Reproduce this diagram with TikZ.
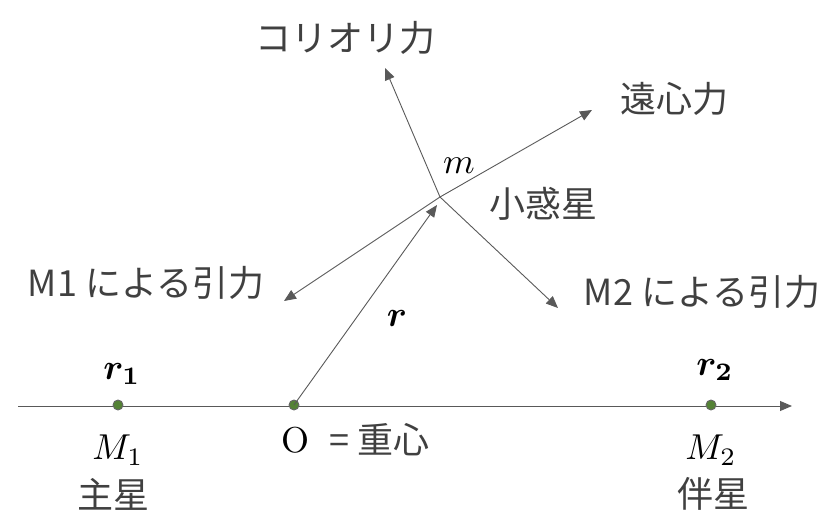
\documentclass[tikz,border=0pt]{standalone}
\usepackage{amsmath, amssymb, bm}
\usepackage{fontspec}
\newfontfamily\jpfont{Noto Sans CJK JP}
\definecolor{LineColor}{RGB}{89,89,89}
\definecolor{TextColor}{RGB}{64,64,64}
\definecolor{DotColor}{RGB}{84,130,53}
\usetikzlibrary{positioning, arrows.meta}
\tikzstyle{vec} = [LineColor, line width=0.9pt, -{Triangle[length=12pt,width=10pt]}]
\tikzstyle{jplabel} = [TextColor, font=\jpfont\fontsize{36}{42}\selectfont, inner sep=0pt]
\tikzstyle{mathlabel} = [black, scale=3.6, inner sep=0pt]
\tikzstyle{mass} = [circle, minimum size=10pt, inner sep=0pt, draw=black!60, line width=0.9pt, fill=DotColor]

\begin{document}
\begin{tikzpicture}[x=1pt, y=-1pt]
                \useasboundingbox (0,0) rectangle (836,522);

                % Axis through the two stars
                \coordinate (axisL) at (18,406);
                \coordinate (axisR) at (792,406);
                \draw[vec] (axisL) -- (axisR);

                % Masses and centre of mass
                \node[mass] (M1) at (118,405) {};
                \node[mass] (O) at (294,405) {};
                \node[mass] (M2) at (711,405) {};

                % Asteroid and its forces
                \coordinate (m) at (440,197);
                \coordinate (cor) at (385,68);
                \coordinate (cen) at (592,110);
                \coordinate (pullA) at (284,301);
                \coordinate (pullB) at (558,308);
                \draw[vec] (O.center) -- (437,205);
                \draw[vec] (m) -- (cor);
                \draw[vec] (m) -- (cen);
                \draw[vec] (m) -- (pullA);
                \draw[vec] (m) -- (pullB);

                % Labels
                \node[jplabel] (corl) at (345,38) {コリオリ力};
                \node[jplabel] (cenl) at (674,99) {遠心力};
                \node[mathlabel] (ml) at (459,166) {$m$};
                \node[jplabel] (astl) at (543,204) {小惑星};
                \node[jplabel] (pullAl) at (146,283) {M1 による引力};
                \node[jplabel] (pullBl) at (702,292) {M2 による引力};
                \node[mathlabel] (rl) at (397,318) {$\bm{r}$};
                \node[mathlabel] (r1l) at (122,374) {$\bm{r_1}$};
                \node[mathlabel] (r2l) at (715,370) {$\bm{r_2}$};
                \node[mathlabel] (M1l) at (118,450) {$M_1$};
                \node[jplabel] (M1n) at (113,494) {主星};
                \node[mathlabel, anchor=west] (Ol) at (281,440) {O};
                \node[jplabel, anchor=west] (Ocl) at (329,440) {= 重心};
                \node[mathlabel] (M2l) at (711,450) {$M_2$};
                \node[jplabel] (M2n) at (713,494) {伴星};
\end{tikzpicture}
\end{document}
